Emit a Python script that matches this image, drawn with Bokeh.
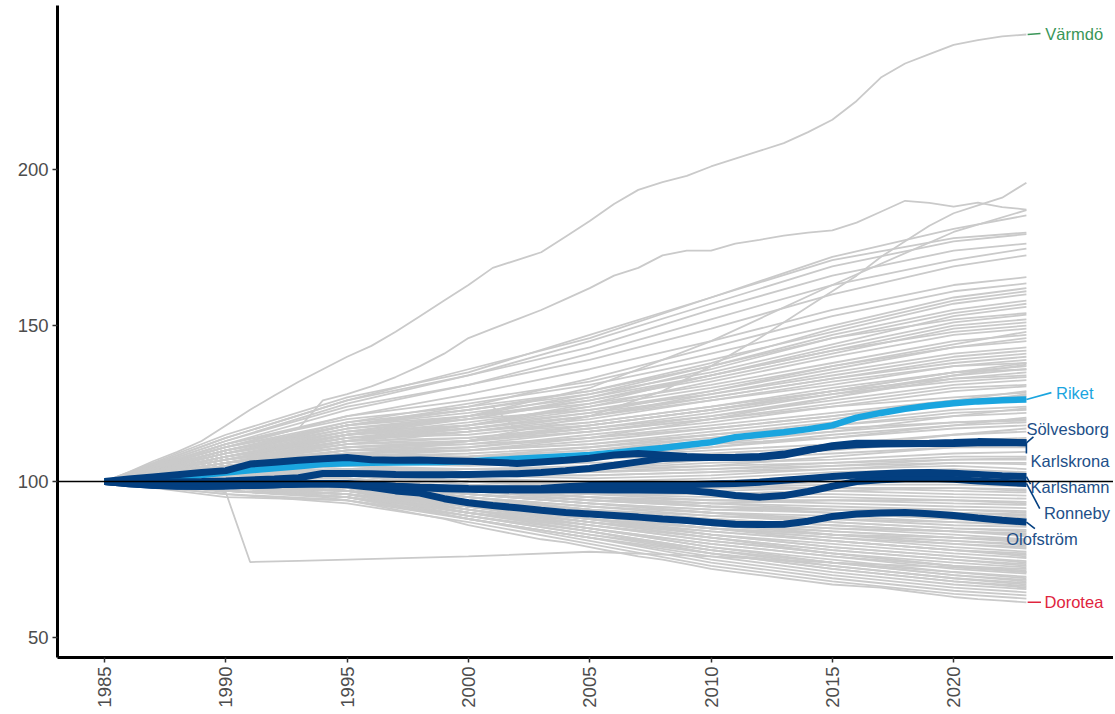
import math
from bokeh.plotting import figure
from bokeh.models import Range1d, FixedTicker, Span
from bokeh.core.properties import value
from bokeh.embed import file_html
from bokeh.resources import INLINE

# ---------------- data ----------------
GREY_YEARS = [1985, 1990, 1995, 2000, 2005, 2010, 2015, 2020, 2023]
GREY = [
    # shrinking municipalities
    [100, 96, 93, 87, 80, 73, 68, 64, 62.5],
    [100, 97, 95, 88, 81, 74, 69, 65, 63.5],
    [100, 98, 95, 88, 82, 75, 70, 66, 64.5],
    [100, 95, 94, 88, 82, 76, 71, 67, 65.5],
    [100, 98, 96, 89, 83, 77, 72, 68, 66.5],
    [100, 97, 95, 89, 84, 78, 73, 69, 67.5],
    [100, 99, 97, 90, 84, 78, 74, 70, 68.5],
    [100, 98, 96, 90, 85, 79, 75, 71, 69.5],
    [100, 99, 97, 91, 85, 80, 76, 72, 70.5],
    [100, 97, 95, 90, 86, 81, 77, 73, 71.5],
    [100, 99, 98, 92, 86, 81, 77, 74, 72.5],
    [100, 98, 96, 91, 87, 82, 78, 75, 73.5],
    [100, 100, 98, 92, 87, 83, 79, 76, 74.5],
    [100, 98, 97, 92, 88, 83, 80, 77, 75.5],
    [100, 99, 98, 93, 88, 84, 81, 78, 76.5],
    [100, 98, 96, 92, 89, 85, 82, 79, 77.5],
    [100, 100, 99, 94, 89, 85, 82, 80, 78.5],
    [100, 99, 97, 93, 90, 86, 83, 81, 79.5],
    [100, 101, 99, 94, 90, 86, 84, 82, 80.5],
    [100, 99, 98, 94, 91, 87, 85, 83, 81.5],
    [100, 100, 99, 95, 91, 88, 86, 84, 82.5],
    [100, 98, 97, 94, 91, 88, 86, 84, 83.5],
    [100, 101, 100, 95, 92, 89, 87, 85, 84.5],
    [100, 99, 98, 95, 92, 90, 88, 86, 85.5],
    [100, 101, 100, 96, 93, 90, 89, 87, 86.5],
    [100, 100, 99, 96, 93, 91, 90, 88, 87.5],
    [100, 102, 101, 97, 94, 92, 91, 89, 88.5],
    [100, 99, 99, 96, 94, 92, 91, 90, 89.5],
    [100, 101, 101, 97, 95, 93, 92, 91, 90.5],
    [100, 100, 100, 97, 95, 94, 93, 92, 91.5],
    [100, 102, 102, 98, 96, 94, 94, 93, 92.5],
    [100, 100, 99, 97, 96, 95, 95, 94, 93.5],
    [100, 102, 103, 99, 97, 96, 96, 95, 94.5],
    [100, 101, 101, 98, 97, 96, 97, 96, 95.5],
    [100, 103, 104, 100, 98, 97, 98, 97, 96.5],
    [100, 101, 102, 99, 98, 98, 98, 98, 97.5],
    [100, 103, 104, 101, 99, 98, 99, 99, 98.5],
    [100, 102, 103, 100, 99, 99, 100, 100, 99.5],
    [100, 101, 102, 100, 100, 100, 101, 101, 100.5],
    [100, 97, 96, 90, 84, 77, 72, 68, 66],
    [100, 99, 98, 91, 85, 79, 74, 70, 68],
    [100, 98, 97, 92, 87, 82, 77, 73, 71],
    [100, 100, 98, 93, 88, 83, 79, 76, 74],
    [100, 99, 97, 93, 89, 85, 81, 78, 76],
    [100, 101, 100, 95, 91, 87, 83, 80, 79],
    [100, 98, 96, 93, 90, 87, 84, 82, 81],
    [100, 100, 99, 96, 93, 90, 87, 85, 84],
    [100, 102, 101, 98, 95, 92, 90, 88, 87],
    [100, 99, 99, 97, 95, 93, 91, 90, 89],
    [100, 102, 103, 100, 98, 98, 100, 101, 101],
    [100, 101, 101, 98, 96, 96, 97, 98, 97],
    [100, 100, 100, 97, 94, 93, 94, 94, 93],
    [100, 101, 100, 96, 93, 91, 91, 91, 90],
    [100, 99, 98, 94, 91, 89, 88, 87, 86],
    [100, 100, 98, 94, 90, 87, 85, 84, 83],
    [100, 98, 97, 92, 88, 85, 83, 81, 80],
    [100, 99, 97, 92, 87, 84, 81, 78, 77],
    [100, 97, 95, 91, 86, 82, 78, 75, 73],
    [100, 98, 96, 90, 85, 80, 76, 73, 72],
    [100, 96, 94, 89, 83, 78, 74, 71, 69],
    [100, 97, 95, 88, 82, 77, 73, 69, 67],
    [100, 99, 97, 92, 88, 85, 83, 82, 81.5],
    # growing municipalities
    [100, 102, 104, 104, 104, 105, 106, 107, 107],
    [100, 103, 105, 104, 104, 106, 107, 109, 109.5],
    [100, 104, 106, 105, 106, 107, 109, 111, 112],
    [100, 102, 104, 104, 105, 108, 110, 113, 114],
    [100, 105, 108, 107, 108, 110, 112, 115, 116],
    [100, 103, 106, 107, 109, 112, 114, 117, 118],
    [100, 104, 108, 108, 110, 113, 116, 119, 120],
    [100, 106, 110, 110, 112, 115, 118, 121, 122],
    [100, 103, 107, 108, 111, 115, 119, 123, 124],
    [100, 105, 109, 110, 113, 117, 121, 125, 126.5],
    [100, 107, 112, 113, 116, 120, 124, 127, 128.5],
    [100, 104, 109, 111, 115, 119, 124, 129, 130.5],
    [100, 106, 111, 113, 117, 121, 126, 131, 132.5],
    [100, 108, 114, 115, 119, 124, 129, 133, 135],
    [100, 105, 110, 113, 118, 123, 129, 135, 137],
    [100, 107, 113, 116, 120, 126, 132, 137, 139],
    [100, 109, 116, 118, 122, 127, 133, 139, 141],
    [100, 106, 112, 116, 121, 128, 135, 141, 143],
    [100, 108, 115, 119, 124, 130, 137, 143, 145],
    [100, 110, 118, 121, 125, 131, 138, 145, 147],
    [100, 107, 114, 118, 124, 132, 140, 147, 149],
    [100, 109, 117, 121, 126, 133, 141, 149, 151],
    [100, 106, 113, 118, 125, 134, 143, 151, 153.5],
    [100, 111, 119, 123, 128, 135, 144, 153, 156],
    [100, 108, 116, 121, 128, 137, 147, 155, 158],
    [100, 110, 119, 125, 131, 139, 148, 157, 160],
    [100, 112, 121, 126, 132, 141, 150, 159, 162],
    [100, 109, 118, 124, 133, 143, 153, 161, 163.5],
    [100, 111, 121, 128, 136, 145, 155, 163, 165.5],
    [100, 113, 124, 131, 139, 149, 160, 169, 172.5],
    [100, 112, 123, 131, 141, 152, 163, 171, 174.7],
    [100, 114, 126, 134, 143, 155, 166, 174, 176.3],
    [100, 113, 125, 134, 145, 157, 169, 177, 179.3],
    [100, 115, 127, 135, 147, 159, 171, 178, 179.8],
    [100, 114, 126, 136, 146, 159, 172, 181, 185.3],
    [100, 108, 115, 121, 130, 145, 163, 180, 187],
    [100, 103, 105, 103, 103, 104, 105, 106, 105.5],
    [100, 104, 107, 106, 107, 109, 111, 113, 113],
    [100, 105, 108, 109, 111, 114, 117, 119, 119.5],
    [100, 106, 110, 111, 114, 118, 122, 126, 127.5],
    [100, 107, 112, 114, 118, 123, 128, 132, 133.5],
    [100, 108, 114, 117, 121, 127, 133, 138, 140],
    [100, 109, 115, 118, 123, 129, 136, 143, 146],
    [100, 110, 116, 120, 126, 134, 142, 150, 152],
    [100, 104, 107, 108, 110, 114, 118, 122, 123],
    [100, 102, 103, 102, 102, 103, 104, 105, 104],
    [100, 103, 104, 103, 103, 104, 106, 108, 108],
    [100, 105, 109, 110, 112, 116, 120, 125, 128],
    [100, 106, 111, 113, 116, 121, 127, 134, 136],
    [100, 104, 105, 103, 104, 107, 111, 115, 117],
    [100, 106, 109, 108, 109, 112, 116, 121, 123.5],
    [100, 103, 106, 106, 108, 111, 115, 118, 119],
    [100, 107, 111, 112, 114, 117, 121, 126, 129],
    [100, 105, 110, 112, 116, 120, 125, 130, 131],
    [100, 108, 113, 114, 117, 122, 128, 134, 137.5],
    [100, 109, 115, 117, 121, 126, 131, 137, 138],
    [100, 110, 117, 120, 123, 128, 134, 140, 142],
    [100, 106, 113, 117, 122, 129, 137, 144, 148],
    [100, 111, 118, 122, 127, 134, 142, 148, 150],
    [100, 107, 115, 120, 127, 136, 146, 154, 157],
    [100, 104, 108, 110, 114, 120, 127, 133, 134],
    [100, 102, 104, 103, 103, 105, 108, 111, 111],
    [100, 101, 103, 102, 102, 103, 105, 107, 107.5],
    [100, 102, 103, 101, 100, 101, 103, 104, 103],
    [100, 101, 102, 100, 99, 100, 102, 103, 102],
    [100, 103, 104, 102, 101, 102, 104, 106, 106],
    [100, 105, 108, 107, 108, 111, 114, 118, 120.5],
    [100, 108, 114, 116, 119, 124, 130, 135, 136],
    [100, 112, 120, 124, 129, 137, 146, 152, 154],
    [100, 110, 118, 123, 129, 138, 149, 158, 161],
]

# grey lines with their own year grids
DROP91_YEARS = [1985, 1988, 1990, 1991, 1993, 1995, 2000, 2005, 2010, 2015, 2020, 2023]
DROP91_VALUES = [100, 98.5, 96.5, 74.2, 74.6, 75, 76, 77.5, 76, 74, 72.5, 71]
DROP02_YEARS = [1985, 1990, 1995, 2000, 2001, 2002, 2005, 2010, 2015, 2020, 2023]
DROP02_VALUES = [100, 110, 118, 123, 124, 116.5, 118, 123, 129, 135, 138]
RISER_YEARS = [1985, 1990, 1995, 2000, 2005, 2008, 2010, 2012, 2014, 2016, 2017, 2018,
               2019, 2020, 2021, 2022, 2023]
RISER_VALUES = [100, 104, 108, 113, 121, 129, 137, 146, 156, 166, 172, 177,
                182, 186, 188.5, 191, 195.8]

YEARS = list(range(1985, 2024))
VARMDO = [100, 103, 106.5, 109.5, 113, 118, 123, 127.6, 132, 136, 140, 143.5, 148, 153,
          158, 163, 168.5, 171, 173.5, 178.5, 183.5, 189, 193.5, 196, 198, 201, 203.5,
          206, 208.5, 212, 216, 222, 229.5, 234, 237, 240, 241.5, 242.7, 243.3]
SECOND = [100, 102, 104, 106.5, 109, 111, 113, 115, 117, 126, 128, 130.5, 133.5, 137,
          141, 146, 149, 152, 155, 158.5, 162, 166, 168.5, 172.5, 174, 174, 176.3, 177.5,
          178.8, 179.8, 180.5, 183, 186.5, 190, 189.3, 188.1, 189.4, 188, 187.2]
DOROTEA = [100, 99.5, 99, 98.5, 98, 97, 96.5, 96, 95.5, 95, 94, 92.5, 91, 89.5, 88,
           86, 84.5, 83, 81.5, 80.5, 79, 77.5, 76, 75, 73.5, 72, 71, 70, 69, 68, 67,
           66.5, 66, 65, 64, 63, 62.3, 61.8, 61.3]
RIKET = [100, 100.3, 100.7, 101.3, 102.1, 102.9, 103.6, 104.3, 104.9, 105.6, 105.9,
         106.0, 106.1, 106.2, 106.3, 106.5, 106.9, 107.3, 107.7, 108.1, 108.5, 109.2,
         110.0, 110.8, 111.7, 112.6, 114.2, 115.0, 115.8, 116.8, 118.0, 120.5, 122.0,
         123.3, 124.3, 125.1, 125.7, 126.1, 126.3]
SOLVESBORG = [100, 100.8, 101.5, 102.2, 102.9, 103.5, 105.6, 106.2, 106.8, 107.3, 107.7,
              107.0, 106.8, 106.9, 106.7, 106.5, 106.2, 105.8, 106.3, 106.8, 107.5, 108.5,
              109.0, 108.5, 108.0, 107.7, 107.7, 107.8, 108.5, 110.0, 111.5, 112.3, 112.3,
              112.2, 112.3, 112.5, 112.8, 112.7, 112.4]
KARLSKRONA = [100, 99.8, 99.8, 99.9, 100.0, 100.2, 100.5, 100.8, 101.2, 102.6, 102.6,
              102.5, 102.3, 102.2, 102.2, 102.3, 102.4, 102.5, 102.9, 103.5, 104.2, 105.2,
              106.3, 107.4, 107.6, 107.7, 107.8, 108.0, 108.8, 110.2, 111.2, 111.8, 112.0,
              112.1, 112.2, 112.2, 112.4, 112.5, 112.4]
KARLSHAMN = [100, 99.5, 99.0, 98.7, 98.6, 98.7, 98.8, 99.0, 99.2, 99.4, 99.3, 99.0, 98.5,
             98.2, 98.0, 97.8, 97.7, 97.7, 97.8, 98.3, 98.7, 98.7, 98.8, 98.9, 99.0, 99.2,
             99.4, 99.8, 100.4, 101.0, 101.6, 102.1, 102.5, 102.8, 102.9, 102.7, 102.3,
             101.9, 101.6]
RONNEBY = [100, 99.3, 98.8, 98.6, 98.5, 98.6, 98.8, 99.0, 99.2, 99.4, 99.2, 98.9, 98.4,
           98.0, 97.7, 97.5, 97.4, 97.3, 97.3, 97.4, 97.4, 97.3, 97.3, 97.2, 97.1, 96.5,
           95.5, 95.0, 95.5, 96.8, 98.5, 100.0, 100.6, 100.9, 101.0, 100.7, 100.2, 99.8,
           99.4]
OLOFSTROM = [100, 99.3, 98.8, 98.5, 98.5, 98.6, 98.8, 99.0, 99.2, 99.3, 99.0, 98.2, 97.0,
             96.3, 94.5, 93.2, 92.3, 91.6, 90.8, 90.1, 89.6, 89.1, 88.6, 88.0, 87.5, 86.9,
             86.3, 86.2, 86.3, 87.3, 88.8, 89.6, 89.9, 90.1, 89.7, 89.1, 88.3, 87.6, 87.0]

X_TICKS = [1985, 1990, 1995, 2000, 2005, 2010, 2015, 2020]
Y_TICKS = [50, 100, 150, 200]

# ---------------- styles ----------------
GREY_COL = "#cacaca"
DARK = "#033f80"
DARK_TXT = "#224f88"
LIGHT = "#1aa5df"
GREEN = "#3a9658"
RED = "#e0243e"
FONT = "Liberation Sans"

p = figure(width=1113, height=712, output_backend="svg", toolbar_location=None,
           x_range=Range1d(1983.06, 2026.59), y_range=Range1d(43.6, 252.6),
           min_border_left=57, min_border_right=0, min_border_top=5,
           min_border_bottom=55)
p.outline_line_color = None
p.xgrid.visible = False
p.ygrid.visible = False
p.background_fill_color = "white"

# grey lines
xs = [GREY_YEARS for _ in GREY] + [DROP91_YEARS, DROP02_YEARS, RISER_YEARS,
                                   YEARS, YEARS, YEARS]
ys = GREY + [DROP91_VALUES, DROP02_VALUES, RISER_VALUES, VARMDO, SECOND, DOROTEA]
p.multi_line(xs, ys, line_color=GREY_COL, line_width=1.8)

# highlighted
p.line(YEARS, RIKET, line_color=LIGHT, line_width=6.5)
for ser in [OLOFSTROM, RONNEBY, KARLSHAMN, KARLSKRONA, SOLVESBORG]:
    p.line(YEARS, ser, line_color=DARK, line_width=7)

# labels and connectors
end = YEARS[-1]
labels = [
    # name, series end, text x, text y, seg end x, seg end y, colour, seg colour
    ("Värmdö", VARMDO[-1], 2023.78, 243.6, 2023.58, 243.6, GREEN, GREEN),
    ("Riket", RIKET[-1], 2024.22, 128.3, 2024.03, 128.5, LIGHT, LIGHT),
    ("Sölvesborg", SOLVESBORG[-1], 2023.0, 117.0, 2023.29, 114.3, DARK_TXT, DARK),
    ("Karlskrona", KARLSKRONA[-1], 2023.17, 106.7, 2023.0, 109.0, DARK_TXT, DARK),
    ("Karlshamn", KARLSHAMN[-1], 2023.17, 98.1, 2023.17, 99.2, DARK_TXT, DARK),
    ("Ronneby", RONNEBY[-1], 2023.72, 90.0, 2023.55, 91.3, DARK_TXT, DARK),
    ("Olofström", OLOFSTROM[-1], 2022.17, 81.7, 2023.35, 84.9, DARK_TXT, DARK),
    ("Dorotea", DOROTEA[-1], 2023.75, 61.3, 2023.6, 61.3, RED, RED),
]
for name, yend, tx, ty, sx, sy, tcol, scol in labels:
    x0 = end + 0.05 if name in ("Värmdö", "Dorotea") else end
    p.segment(x0=[x0], y0=[yend], x1=[sx], y1=[sy], line_color=scol, line_width=1.6)
    p.text(x=[tx], y=[ty], text=[name], text_color=tcol, text_font=value(FONT),
           text_font_size="16.5px", text_align="left", text_baseline="middle")

# reference line at 100
p.add_layout(Span(location=100, dimension="width", line_color="black", line_width=1.6))

for ax, ticks in ((p.xaxis, X_TICKS), (p.yaxis, Y_TICKS)):
    ax.ticker = FixedTicker(ticks=ticks)
    ax.axis_line_color = "black"
    ax.axis_line_width = 3
    ax.major_tick_line_color = "#333333"
    ax.major_tick_line_width = 1.5
    ax.major_tick_out = 5
    ax.major_tick_in = 0
    ax.minor_tick_line_color = None
    ax.major_label_text_color = "#4d4d4d"
    ax.major_label_text_font = FONT
    ax.major_label_text_font_size = "18.5px"
    ax.major_label_standoff = 4
p.xaxis.major_label_orientation = math.pi / 2

open("out.html", "w").write(file_html(p, INLINE))
